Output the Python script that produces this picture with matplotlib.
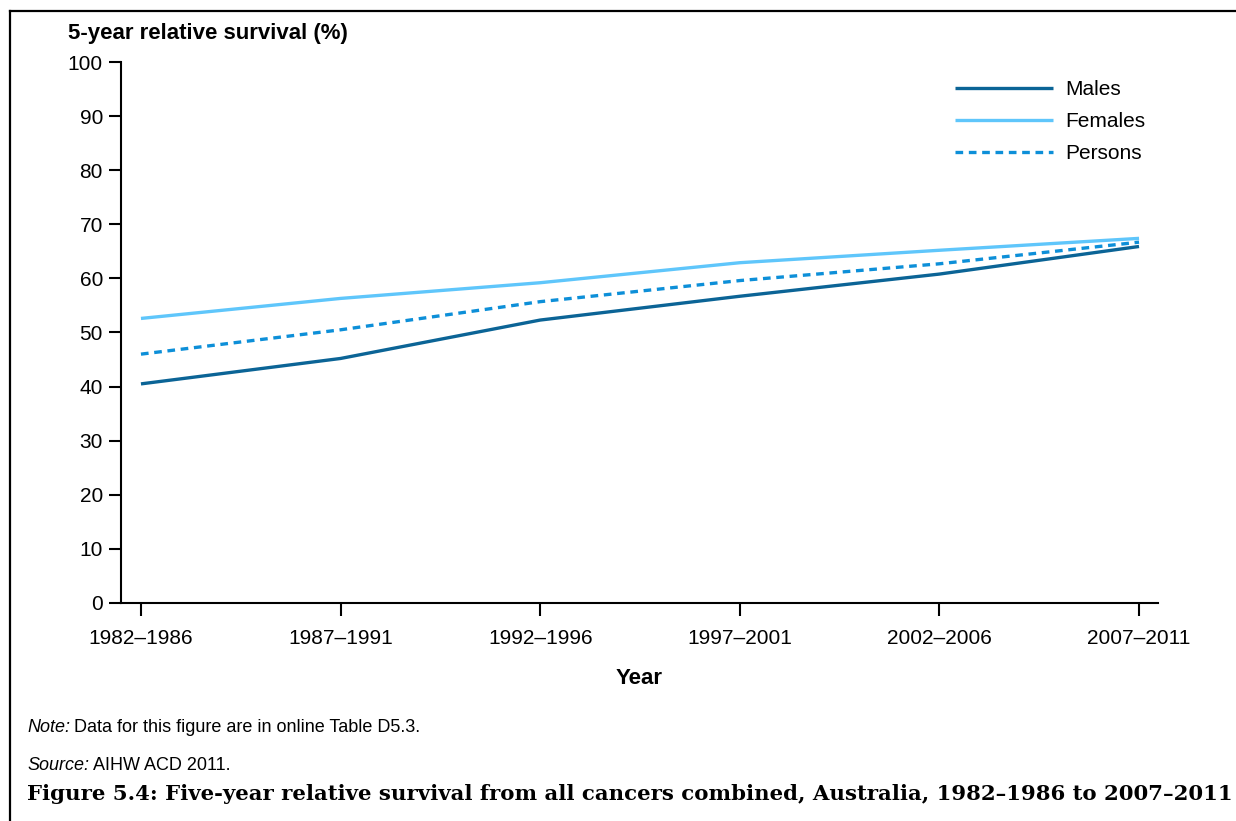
import matplotlib
matplotlib.use("Agg")
import matplotlib.pyplot as plt
from matplotlib.lines import Line2D

plt.rcParams['font.family'] = ['Liberation Sans', 'DejaVu Sans']

periods = ["1982–1986", "1987–1991", "1992–1996", "1997–2001", "2002–2006", "2007–2011"]
males = [40.5, 45.2, 52.3, 56.7, 60.8, 65.9]
females = [52.6, 56.3, 59.2, 62.9, 65.2, 67.4]
persons = [46.0, 50.5, 55.7, 59.6, 62.7, 66.7]
yticks = [0, 10, 20, 30, 40, 50, 60, 70, 80, 90, 100]

W, H = 1236, 821
fig = plt.figure(figsize=(W / 100, H / 100), dpi=100)
ax = fig.add_axes([121 / W, 1 - 603 / H, (1158 - 121) / W, (603 - 62) / H])

x = list(range(len(periods)))
ax.plot(x, males, color='#0b6496', lw=2.4, solid_capstyle='butt', label='Males')
ax.plot(x, females, color='#5fc6fb', lw=2.4, solid_capstyle='butt', label='Females')
ax.plot(x, persons, color='#0d8fd8', lw=2.4, dashes=(2.3, 1.7), label='Persons')

ax.set_xlim(-0.1, 5.095)
ax.set_ylim(0, 100)
ax.set_xticks(x)
ax.set_xticklabels(periods)
ax.set_yticks(yticks)
for s in ['top', 'right']:
    ax.spines[s].set_visible(False)
for s in ['left', 'bottom']:
    ax.spines[s].set_linewidth(1.5)
ax.tick_params(axis='both', labelsize=15, width=1.5, length=9, direction='out')
ax.tick_params(axis='x', pad=10)
ax.tick_params(axis='y', pad=4)

leg = ax.legend(loc='upper right', bbox_to_anchor=(1.0, 0.989), frameon=False, fontsize=15,
                handlelength=4.7, handletextpad=0.6, labelspacing=0.62, borderaxespad=0.2)

fig.text(68 / W, 1 - 33 / H, "5-year relative survival (%)", fontsize=16, fontweight='bold',
         ha='left', va='center')
fig.text(639 / W, 1 - 678 / H, "Year", fontsize=16, fontweight='bold', ha='center', va='center')

renderer = fig.canvas.get_renderer()
t1 = fig.text(27 / W, 1 - 727 / H, "Note:", fontsize=13, style='italic', ha='left', va='center')
bb = t1.get_window_extent(renderer)
fig.text((bb.x1 + 4) / W, 1 - 727 / H, "Data for this figure are in online Table D5.3.", fontsize=13,
         ha='left', va='center')
t2 = fig.text(27 / W, 1 - 765 / H, "Source:", fontsize=13, style='italic', ha='left', va='center')
bb2 = t2.get_window_extent(renderer)
fig.text((bb2.x1 + 4) / W, 1 - 765 / H, "AIHW ACD 2011.", fontsize=13, ha='left', va='center')

cap = fig.text(27 / W, 1 - 794 / H,
               "Figure 5.4: Five-year relative survival from all cancers combined, Australia, 1982–1986 to 2007–2011",
               fontsize=16, fontweight='bold', family=['DejaVu Serif'], ha='left', va='center')
wcap = cap.get_window_extent(renderer).width
cap.set_fontsize(16 * (1203 / wcap))

fig.add_artist(Line2D([10 / W, 1.0], [1 - 11 / H, 1 - 11 / H], color='black', lw=1.6, transform=fig.transFigure))
fig.add_artist(Line2D([10 / W, 10 / W], [1 - 11 / H, 0], color='black', lw=1.6, transform=fig.transFigure))

fig.savefig("out.png", dpi=100)
